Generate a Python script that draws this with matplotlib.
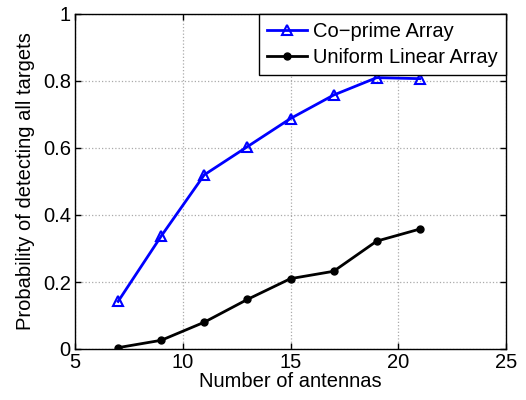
import matplotlib
matplotlib.use("Agg")
import matplotlib.pyplot as plt
import numpy as np

# data
antennas = [7, 9, 11, 13, 15, 17, 19, 21]
coprime = [0.142, 0.337, 0.520, 0.604, 0.688, 0.758, 0.810, 0.807]
ula = [0.004, 0.026, 0.080, 0.148, 0.210, 0.232, 0.322, 0.358]

plt.rcParams['font.family'] = ['Liberation Sans', 'DejaVu Sans']
plt.rcParams['font.size'] = 14.5

fig = plt.figure(figsize=(5.26, 4.0), dpi=100)
ax = fig.add_axes([0.1426, 0.1275, 0.8194, 0.8375])

ax.plot(antennas, coprime, color='blue', linewidth=2, marker='^', markersize=7,
        markerfacecolor='none', markeredgewidth=1.5, label='Co\u2212prime Array')
ax.plot(antennas, ula, color='black', linewidth=2, marker='o', markersize=5,
        label='Uniform Linear Array')

ax.set_xlim(5, 25)
ax.set_ylim(0, 1)
ax.set_xticks(np.arange(5, 26, 5))
ax.set_yticks([0, 0.2, 0.4, 0.6, 0.8, 1])
ax.set_yticklabels(['0', '0.2', '0.4', '0.6', '0.8', '1'])
ax.grid(True, color='#aaaaaa', linestyle=':', linewidth=0.9)
ax.tick_params(direction='in', length=4, width=1, top=True, right=True, pad=3)
for s in ax.spines.values():
    s.set_linewidth(1)
ax.set_xlabel('Number of antennas', labelpad=0)
ax.set_ylabel('Probability of detecting all targets', labelpad=6)

leg = ax.legend(loc='upper right', borderaxespad=0, fancybox=False,
                framealpha=1, edgecolor='black', handlelength=2.0,
                borderpad=0.4, labelspacing=0.35, handletextpad=0.3)
leg.get_frame().set_linewidth(1)

fig.savefig('out.png', dpi=100)
